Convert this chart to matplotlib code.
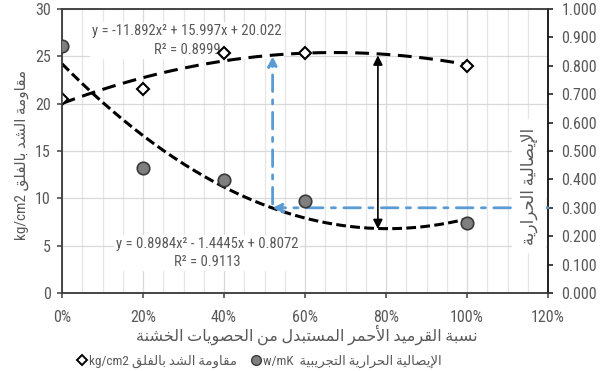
import matplotlib
matplotlib.use("Agg")
import matplotlib.pyplot as plt
from matplotlib import font_manager
from matplotlib.lines import Line2D
from matplotlib.ticker import MultipleLocator, FixedLocator, FuncFormatter
import numpy as np

# ---------------------------------------------------------------- data
replacement = [0.0, 0.2, 0.4, 0.6, 1.0]                 # red brick ratio
tensile = [20.5, 21.6, 25.3, 25.3, 24.0]               # kg/cm2
conductivity = [0.870, 0.439, 0.398, 0.324, 0.248]     # w/mK

tensile_fit = [-11.892, 15.997, 20.022]                # a, b, c
tensile_r2 = 0.8999
cond_fit = [0.8984, -1.4445, 0.8072]
cond_r2 = 0.9113

x_ticks = [0.0, 0.2, 0.4, 0.6, 0.8, 1.0, 1.2]
left_ticks = [0, 5, 10, 15, 20, 25, 30]
right_ticks = [0.0, 0.1, 0.2, 0.3, 0.4, 0.5, 0.6, 0.7, 0.8, 0.9, 1.0]

# guide arrows
target_ratio = 0.52
target_tensile = 25.0
target_cond = 0.30
gap_ratio = 0.78
gap_top = 25.1          # kg/cm2
gap_bottom = 0.225      # w/mK

# ---------------------------------------------------------------- Arabic shaping
def _four(start):
    return tuple(range(start, start + 4))

_FORMS = {
    'ء': (0xFE80,),
    'آ': (0xFE81, 0xFE82), 'أ': (0xFE83, 0xFE84), 'ؤ': (0xFE85, 0xFE86),
    'إ': (0xFE87, 0xFE88), 'ئ': _four(0xFE89), 'ا': (0xFE8D, 0xFE8E),
    'ب': _four(0xFE8F), 'ة': (0xFE93, 0xFE94), 'ت': _four(0xFE95),
    'ث': _four(0xFE99), 'ج': _four(0xFE9D), 'ح': _four(0xFEA1),
    'خ': _four(0xFEA5), 'د': (0xFEA9, 0xFEAA), 'ذ': (0xFEAB, 0xFEAC),
    'ر': (0xFEAD, 0xFEAE), 'ز': (0xFEAF, 0xFEB0), 'س': _four(0xFEB1),
    'ش': _four(0xFEB5), 'ص': _four(0xFEB9), 'ض': _four(0xFEBD),
    'ط': _four(0xFEC1), 'ظ': _four(0xFEC5), 'ع': _four(0xFEC9),
    'غ': _four(0xFECD), 'ف': _four(0xFED1), 'ق': _four(0xFED5),
    'ك': _four(0xFED9), 'ل': _four(0xFEDD), 'م': _four(0xFEE1),
    'ن': _four(0xFEE5), 'ه': _four(0xFEE9), 'و': (0xFEED, 0xFEEE),
    'ى': (0xFEEF, 0xFEF0), 'ي': _four(0xFEF1),
}
_LAM_ALEF = {'آ': (0xFEF5, 0xFEF6), 'أ': (0xFEF7, 0xFEF8),
             'إ': (0xFEF9, 0xFEFA), 'ا': (0xFEFB, 0xFEFC)}


def _dual(c):
    return c in _FORMS and len(_FORMS[c]) == 4


def _joins(c):
    return c in _FORMS and len(_FORMS[c]) > 1


def ar(text):
    """Contextual forms + right-to-left visual order for an Arabic run."""
    out = []
    i, n = 0, len(text)
    while i < n:
        c = text[i]
        if c not in _FORMS:
            out.append(c)
            i += 1
            continue
        prev = text[i - 1] if i > 0 else ''
        join_prev = _dual(prev)
        if c == 'ل' and i + 1 < n and text[i + 1] in _LAM_ALEF:
            iso, fin = _LAM_ALEF[text[i + 1]]
            out.append(chr(fin if join_prev else iso))
            i += 2
            continue
        forms = _FORMS[c]
        if len(forms) == 1:
            out.append(chr(forms[0]))
            i += 1
            continue
        nxt = text[i + 1] if i + 1 < n else ''
        join_next = _dual(c) and _joins(nxt)
        if join_prev and join_next:
            code = forms[3]
        elif join_prev:
            code = forms[1]
        elif join_next:
            code = forms[2]
        else:
            code = forms[0]
        out.append(chr(code))
        i += 1
    return ''.join(reversed(out))


# ---------------------------------------------------------------- fonts
_installed = {f.name for f in font_manager.fontManager.ttflist}
latin = 'Liberation Sans'
for cand in ('Liberation Sans Narrow', 'Roboto Condensed', 'Open Sans Condensed'):
    if cand in _installed:
        latin = cand
        break
narrow = latin != 'Liberation Sans'
arabic = ['DejaVu Sans Condensed', 'DejaVu Sans'] if 'DejaVu Sans Condensed' in _installed \
    else ['DejaVu Sans']
plt.rcParams['font.family'] = [latin] + arabic

FS_TICK = 11.5 if narrow else 10.5
FS_EQ = 10.5 if narrow else 9.8
TXT = '#595959'
W, H = 607, 371

fig = plt.figure(figsize=(W / 100, H / 100), dpi=100)
L, R, T, B = 62, 548, 9, 293
ax = fig.add_axes([L / W, 1 - B / H, (R - L) / W, (B - T) / H])
ax2 = ax.twinx()

ax.set_xlim(0, 1.2)
ax.set_ylim(0, 30)
ax2.set_ylim(0, 1.0)

# grid
ax.xaxis.set_major_locator(FixedLocator(x_ticks))
ax.xaxis.set_minor_locator(MultipleLocator(0.05))
ax.yaxis.set_major_locator(FixedLocator(left_ticks))
ax2.yaxis.set_major_locator(FixedLocator(right_ticks))
ax.grid(which='minor', axis='x', color='#e6e6e6', lw=0.9)
ax.grid(which='major', axis='x', color='#d9d9d9', lw=0.9)
ax.grid(which='major', axis='y', color='#d9d9d9', lw=0.9)
ax.set_axisbelow(True)
ax.tick_params(which='minor', length=0)

ax.xaxis.set_major_formatter(FuncFormatter(lambda v, p: f'{v * 100:.0f}%'))
ax2.yaxis.set_major_formatter(FuncFormatter(lambda v, p: f'{v:.3f}'))

for a in (ax, ax2):
    for s in a.spines.values():
        s.set_color('#404040')
        s.set_linewidth(1.1)
ax2.spines['right'].set_color('#111111')
ax.tick_params(axis='y', which='major', length=3.6, width=1.1, color='#404040',
               labelcolor=TXT, labelsize=FS_TICK, pad=4.5)
ax.tick_params(axis='x', which='major', length=3.6, width=1.1, color='#404040',
               labelcolor=TXT, labelsize=FS_TICK, pad=8.5)
ax2.tick_params(axis='y', which='major', length=3.6, width=1.1, color='#111111',
                labelcolor=TXT, labelsize=FS_TICK, pad=6)

# trend lines
xs = np.linspace(0, 1.0, 200)
ax.plot(xs, np.polyval(tensile_fit, xs), color='black', lw=2.2,
        dashes=(4.5, 2.5), zorder=2)
ax2.plot(xs, np.polyval(cond_fit, xs), color='black', lw=2.2,
         dashes=(3.2, 1.4), zorder=2)

# measured points
ax.plot(replacement, tensile, ls='none', marker='D', ms=6.5, mfc='white',
        mec='black', mew=1.5, zorder=4)
ax2.plot(replacement, conductivity, ls='none', marker='o', ms=9, mfc='#7f7f7f',
         mec='#3a3a3a', mew=1.2, zorder=4)

# guide arrows (blue dash-dot)
blue = '#5b9bd5'
ax2.annotate('', xy=(target_ratio, target_cond), xytext=(1.2, target_cond),
             arrowprops=dict(arrowstyle='-|>', color=blue, lw=2.0, ls=(0, (6, 3, 1.5, 3)),
                             mutation_scale=14, shrinkA=0, shrinkB=0), zorder=3)
ax.annotate('', xy=(target_ratio, target_tensile), xytext=(target_ratio, 9.4),
            arrowprops=dict(arrowstyle='-|>', color=blue, lw=2.0, ls=(0, (6, 3, 1.5, 3)),
                            mutation_scale=14, shrinkA=0, shrinkB=0), zorder=3)

# gap between the two curves (black double arrow)
ax2.annotate('', xy=(gap_ratio, gap_top / 30.0), xytext=(gap_ratio, gap_bottom),
             arrowprops=dict(arrowstyle='<|-|>', color='black', lw=1.2,
                             mutation_scale=14, shrinkA=0, shrinkB=0), zorder=5)

# equations (white label boxes sit over the grid but under the curves)
box = dict(boxstyle='square,pad=0.12', fc='white', ec='none')
eq1 = (f'y = {tensile_fit[0]:.3f}x² + {tensile_fit[1]:.3f}x + {tensile_fit[2]:.3f}\n'
       f'R² = {tensile_r2:.4f}')
eq2 = (f'y = {cond_fit[0]:.4f}x² - {abs(cond_fit[1]):.4f}x + {cond_fit[2]:.4f}\n'
       f'R² = {cond_r2:.4f}')
ax.text(187 / W, 1 - 40.5 / H, eq1, transform=fig.transFigure, ha='center', va='center',
        color=TXT, fontsize=FS_EQ, linespacing=1.45, bbox=box, zorder=1.5)
ax.text(207 / W, 1 - 253 / H, eq2, transform=fig.transFigure, ha='center', va='center',
        color=TXT, fontsize=FS_EQ, linespacing=1.45, bbox=box, zorder=1.5)

# axis titles
fig.text(307 / W, 1 - 335 / H,
         ar('نسبة القرميد الأحمر المستبدل من الحصويات الخشنة'),
         ha='center', va='center', color=TXT, fontsize=11.5)
fig.text(22 / W, 1 - 155 / H, 'kg/cm2 ' + ar('مقاومة الشد بالفلق'),
         rotation=90, ha='center', va='center', color=TXT, fontsize=11)
fig.text(529 / W, 1 - 186 / H, ar('الإيصالية الحرارية'),
         rotation=90, ha='center', va='center', color=TXT, fontsize=12,
         bbox=dict(boxstyle='square,pad=0.5', fc='white', ec='none'), zorder=6)

# legend
handles = [Line2D([], [], ls='none', marker='D', ms=5, mfc='white', mec='black', mew=1.4),
           Line2D([], [], ls='none', marker='o', ms=7, mfc='#7f7f7f', mec='#3a3a3a', mew=1.0)]
labels = ['kg/cm2 ' + ar('مقاومة الشد بالفلق'),
          'w/mK  ' + ar('الإيصالية الحرارية التجريبية')]
fig.legend(handles, labels, loc='center', bbox_to_anchor=(260 / W, 1 - 361 / H),
           ncol=2, frameon=False, fontsize=9.5, labelcolor=TXT,
           handlelength=0.6, handletextpad=0.25, columnspacing=1.1,
           borderaxespad=0, borderpad=0)

fig.savefig('out.png', dpi=100)
